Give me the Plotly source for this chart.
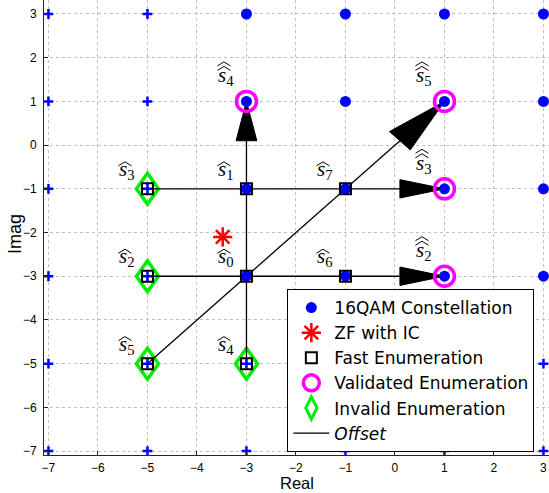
import plotly.graph_objects as go

# ---------------- data ----------------
qam_re = [-3, -1, 1, 3, -3, -1, 1, 3, -3, -1, 1, 3, -3, -1, 1, 3]
qam_im = [3, 3, 3, 3, 1, 1, 1, 1, -1, -1, -1, -1, -3, -3, -3, -3]

ext_re = [-7, -5, -7, -5, -7, -5, -7, -5, -7, -5, -3, -1, 1, 3, -7, -5, -3, -1, 1, 3]
ext_im = [3, 3, 1, 1, -1, -1, -3, -3, -5, -5, -5, -5, -5, -5, -7, -7, -7, -7, -7, -7]

zf_re = [-3.48]
zf_im = [-2.1]

fast_re = [-3, -3, -5, -5, -3, -5, -1, -1]
fast_im = [-3, -1, -3, -1, -5, -5, -3, -1]
fast_idx = [0, 1, 2, 3, 4, 5, 6, 7]

valid_re = [-3, 1, 1, 1]
valid_im = [1, 1, -1, -3]
valid_idx = [4, 5, 3, 2]

invalid_re = [-5, -5, -5, -3]
invalid_im = [-1, -3, -5, -5]

# offset lines (start -> end)
line_x0 = [-3, -5, -5, -5]
line_y0 = [-5, -1, -3, -5]
line_x1 = [-3, 1, 1, 1]
line_y1 = [1, -1, -3, 1]

# arrows (start -> tip)
arr_x0 = [-3, -1, -1, -1]
arr_y0 = [-1, -1, -3, -1]
arr_x1 = [-3, 1, 1, 1]
arr_y1 = [1, -1, -3, 1]

x_ticks = [-7, -6, -5, -4, -3, -2, -1, 0, 1, 2, 3]
y_ticks = [-7, -6, -5, -4, -3, -2, -1, 0, 1, 2, 3]

# ---------------- figure ----------------
fig = go.Figure()

lx, ly = [], []
for a, b, c, d in zip(line_x0, line_y0, line_x1, line_y1):
    lx += [a, c, None]
    ly += [b, d, None]
fig.add_trace(go.Scatter(x=lx, y=ly, mode="lines", name="<i>Offset</i>",
                         line=dict(color="black", width=1.3), legendrank=6))

tx, ty = [], []
for a, b, c, d in zip(arr_x0, arr_y0, arr_x1, arr_y1):
    dx, dy = c - a, d - b
    bx, by = c - 0.45 * dx, d - 0.45 * dy
    px, py = -dy * 0.105, dx * 0.105
    tx += [c, bx + px, bx - px, c, None]
    ty += [d, by + py, by - py, d, None]
fig.add_trace(go.Scatter(x=tx, y=ty, mode="lines", fill="toself", fillcolor="black",
                         line=dict(color="black", width=1), showlegend=False,
                         hoverinfo="skip"))

# legend entry for invalid enumeration (diamonds themselves drawn as shapes below)
fig.add_trace(go.Scatter(x=[None], y=[None], mode="markers", name="Invalid Enumeration",
                         marker=dict(symbol="diamond-tall-open", size=16, color="#00ee00",
                                     line=dict(color="#00ee00", width=3)), legendrank=5))
for x, y in zip(invalid_re, invalid_im):
    fig.add_shape(type="path", xref="x", yref="y", xsizemode="pixel", ysizemode="pixel",
                  xanchor=x, yanchor=y, path="M0,15.5 L11,0 L0,-15.5 L-11,0 Z",
                  line=dict(color="#00ee00", width=3.5), layer="between")

fig.add_trace(go.Scatter(x=valid_re, y=valid_im, mode="markers", name="Validated Enumeration",
                         marker=dict(symbol="circle-open", size=20, color="#ff00ff",
                                     line=dict(color="#ff00ff", width=3.5)), legendrank=4))
fig.add_trace(go.Scatter(x=qam_re, y=qam_im, mode="markers", name="16QAM Constellation",
                         marker=dict(symbol="circle", size=11, color="#0000ff"), legendrank=1))
fig.add_trace(go.Scatter(x=ext_re, y=ext_im, mode="markers", showlegend=False,
                         marker=dict(symbol="cross-thin-open", size=7, color="#0000ff",
                                     line=dict(color="#0000ff", width=2.5))))
fig.add_trace(go.Scatter(x=fast_re, y=fast_im, mode="markers", name="Fast Enumeration",
                         marker=dict(symbol="square-open", size=11, color="black",
                                     line=dict(color="black", width=2)), legendrank=3))
fig.add_trace(go.Scatter(x=zf_re, y=zf_im, mode="markers", name="ZF with IC",
                         marker=dict(symbol="asterisk-open", size=16, color="#ff0000",
                                     line=dict(color="#ff0000", width=2.5)), legendrank=2))

label_font = dict(family="Liberation Serif", size=21, color="black")


def add_label(x, y, k, hats, s_up):
    # s_up: pixel height of the letter centre above the point
    fig.add_annotation(x=x, y=y, xref="x", yref="y", showarrow=False,
                       text="<i>s</i><sub>%d</sub>" % k, font=label_font,
                       xanchor="center", yanchor="middle", xshift=-20, yshift=s_up + 2)
    base = s_up + (6 if hats == 1 else 8)
    for h in range(hats):
        b = base + 4.5 * h
        fig.add_shape(type="path", xref="x", yref="y", xsizemode="pixel", ysizemode="pixel",
                      xanchor=x, yanchor=y,
                      path="M-29,%g L-22.5,%g L-16,%g" % (b, b + 4, b),
                      line=dict(color="black", width=1), layer="above")


for x, y, k in zip(fast_re, fast_im, fast_idx):
    add_label(x, y, k, 1, 17)
for x, y, k in zip(valid_re, valid_im, valid_idx):
    add_label(x, y, k, 2, 23)

title_font = dict(family="Liberation Sans", size=16.5, color="black")
fig.add_annotation(x=-0.0574, y=0.4857, xref="paper", yref="paper", text="Imag",
                   showarrow=False, textangle=-90, xanchor="center", yanchor="middle",
                   font=dict(family="Liberation Sans", size=18, color="black"))
fig.add_annotation(x=0.5, y=-0.0835, xref="paper", yref="paper", text="Real",
                   showarrow=False, xanchor="center", yanchor="bottom", borderpad=0,
                   font=title_font)

axis_common = dict(showgrid=True, gridcolor="#c0c0c0", griddash="dot", gridwidth=1,
                   zeroline=False, showline=True, linecolor="#262626", linewidth=1,
                   ticks="inside", ticklen=4, tickcolor="#262626",
                   tickfont=dict(family="Liberation Sans", size=12, color="black"))

fig.update_xaxes(range=[-7.09, 3.112], tickvals=x_ticks, **axis_common,
                 ticklabelstandoff=2)
fig.update_yaxes(range=[-7.09, 3.32], tickvals=y_ticks, **axis_common,
                 ticklabelstandoff=4)

fig.update_layout(
    width=549, height=493,
    margin=dict(l=44, r=0, t=0, b=38),
    plot_bgcolor="white", paper_bgcolor="white",
    showlegend=True,
    legend=dict(x=0.971, y=0.0066, xanchor="right", yanchor="bottom",
                bgcolor="white", bordercolor="black", borderwidth=1,
                font=dict(family="DejaVu Sans", size=17, color="black"),
                itemsizing="trace", itemwidth=36),
)

fig.write_html("out.html")
